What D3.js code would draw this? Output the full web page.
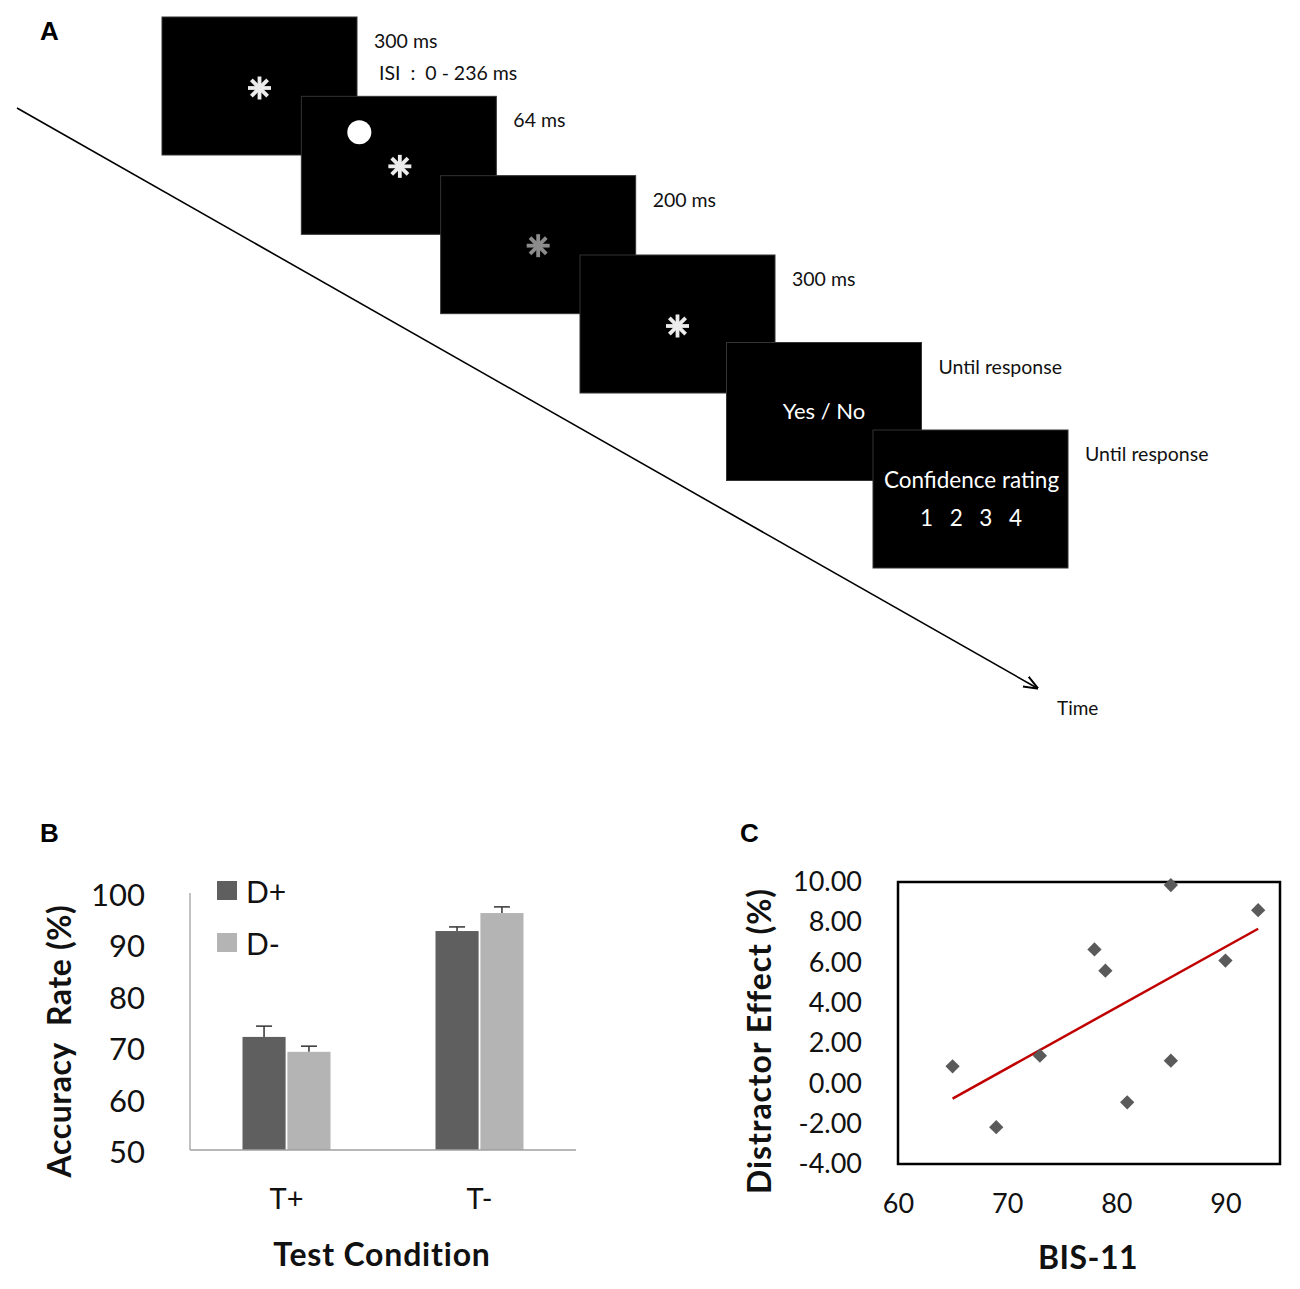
<!DOCTYPE html>
<html><head><meta charset="utf-8">
<script src="https://cdn.jsdelivr.net/npm/d3@7"></script>
<style>body{margin:0;background:#fff}svg{display:block}</style>
</head><body>
<svg id="fig" width="1300" height="1289"></svg>
<script>
// ---------- DATA ----------
// Panel A: trial sequence
const screenNames = ["fixation", "cue", "mask", "fixation2", "response", "confidence"];
const screenStimuli = ["star", "dotStar", "grayStar", "star", "yesno", "rating"];
const durationLabels = [["300 ms", " ISI  :  0 - 236 ms"], ["64 ms"], ["200 ms"], ["300 ms"], ["Until response"], ["Until response"]];
const responseText = "Yes / No";
const ratingTitle = "Confidence rating";
const ratingOptions = ["1", "2", "3", "4"];
const timeLabel = "Time";

// Panel B: accuracy
const conditions = ["T+", "T-"];
const distractors = ["D+", "D-"];
const accDplus = [72.0, 92.6];
const accDminus = [69.1, 96.1];
const errDplus = [2.1, 0.8];
const errDminus = [1.1, 1.2];
const accTicks = [50, 60, 70, 80, 90, 100];

// Panel C: scatter
const bisScores = [65, 69, 73, 78, 79, 81, 85, 85, 90, 93];
const distractorEffect = [0.85, -2.17, 1.38, 6.65, 5.6, -0.94, 9.85, 1.13, 6.1, 8.6];
const effectTicks = [-4, -2, 0, 2, 4, 6, 8, 10];
const bisTicks = [60, 70, 80, 90];

// ---------- DRAW ----------
const svg = d3.select("#fig");
const calib = "Lato, 'Open Sans', sans-serif";

// Panel letters
[["A", 40, 40], ["B", 40, 842], ["C", 740, 842]].forEach(([t, x, y]) => {
  svg.append("text").attr("x", x).attr("y", y).text(t)
    .attr("font-family", "'Liberation Sans', Arial, sans-serif").attr("font-weight", "bold")
    .attr("font-size", 26).attr("fill", "#000");
});

// ===== Panel A =====
const gA = svg.append("g");
const idx = d3.range(screenNames.length);
const sx = d3.scaleLinear().domain([0, 3, 5]).range([162, 580, 873]);
const sy = d3.scaleLinear().domain([0, 3, 5]).range([17, 255, 430]);
const sw = 195, sh = 138;

// time arrow
const defs = svg.append("defs");
defs.append("marker").attr("id", "arrow").attr("viewBox", "0 0 10 10").attr("refX", 9).attr("refY", 5)
  .attr("markerWidth", 9).attr("markerHeight", 9).attr("orient", "auto")
  .append("path").attr("d", "M0,1 L10,5 L0,9").attr("fill", "none").attr("stroke", "#000").attr("stroke-width", 1.4);
gA.append("line").attr("x1", 17).attr("y1", 108).attr("x2", 1037).attr("y2", 688)
  .attr("stroke", "#000").attr("stroke-width", 1.6).attr("marker-end", "url(#arrow)");
gA.append("text").attr("x", 1057).attr("y", 715).text(timeLabel)
  .attr("font-family", calib).attr("font-size", 19).attr("fill", "#111");

function star(g, cx, cy, r, color) {
  d3.range(4).forEach(k => {
    const a = k * Math.PI / 4;
    g.append("line").attr("x1", cx - r * Math.cos(a)).attr("y1", cy - r * Math.sin(a))
      .attr("x2", cx + r * Math.cos(a)).attr("y2", cy + r * Math.sin(a))
      .attr("stroke", color).attr("stroke-width", 3.8).attr("stroke-linecap", "butt");
  });
}

idx.forEach(i => {
  const x = sx(i), y = sy(i);
  const g = gA.append("g");
  g.append("rect").attr("x", x).attr("y", y).attr("width", sw).attr("height", sh)
    .attr("fill", "#000").attr("stroke", "#333").attr("stroke-width", 1);
  const cx = x + sw / 2, cy = y + sh / 2;
  const s = screenStimuli[i];
  if (s === "star") star(g, cx, cy + 2, 11.5, "#ececec");
  if (s === "grayStar") star(g, cx, cy + 1, 11.5, "#8c8c8c");
  if (s === "dotStar") {
    g.append("circle").attr("cx", x + 58).attr("cy", y + 36).attr("r", 12).attr("fill", "#fff");
    star(g, cx + 1, cy + 1, 11.5, "#ececec");
  }
  if (s === "yesno") {
    g.append("text").attr("x", cx).attr("y", cy + 7).attr("text-anchor", "middle").text(responseText)
      .attr("font-family", calib).attr("font-size", 22).attr("fill", "#fff");
  }
  if (s === "rating") {
    g.append("text").attr("x", cx + 1).attr("y", cy - 11).attr("text-anchor", "middle").text(ratingTitle)
      .attr("font-family", calib).attr("font-size", 22.5).attr("fill", "#fff");
    const rx = d3.scalePoint().domain(ratingOptions).range([cx - 44, cx + 45]);
    ratingOptions.forEach(o => {
      g.append("text").attr("x", rx(o)).attr("y", cy + 27).attr("text-anchor", "middle").text(o)
        .attr("font-family", calib).attr("font-size", 22.5).attr("fill", "#fff");
    });
  }
  durationLabels[i].forEach((t, j) => {
    gA.append("text").attr("x", x + sw + 17).attr("y", y + 31 + j * 32).text(t)
      .style("white-space", "pre")
      .attr("font-family", calib).attr("font-size", 19.5).attr("fill", "#111");
  });
});

// ===== Panel B =====
const gB = svg.append("g");
const bx = d3.scaleBand().domain(conditions).range([190, 576]).padding(0);
const by = d3.scaleLinear().domain([50, 100]).range([1150, 893]);
const sub = d3.scaleBand().domain(distractors).range([-44, 44]).paddingInner(0.04);
const barColors = { "D+": "#5f5f5f", "D-": "#b4b4b4" };
const barData = [];
conditions.forEach((c, i) => {
  barData.push({ c, d: "D+", v: accDplus[i], e: errDplus[i] });
  barData.push({ c, d: "D-", v: accDminus[i], e: errDminus[i] });
});
gB.selectAll("rect.bar").data(barData).join("rect").attr("class", "bar")
  .attr("x", d => bx(d.c) + bx.bandwidth() / 2 + sub(d.d))
  .attr("width", sub.bandwidth())
  .attr("y", d => by(d.v)).attr("height", d => by(50) - by(d.v))
  .attr("fill", d => barColors[d.d]);
barData.forEach(d => {
  const cx = bx(d.c) + bx.bandwidth() / 2 + sub(d.d) + sub.bandwidth() / 2;
  gB.append("line").attr("x1", cx).attr("x2", cx).attr("y1", by(d.v)).attr("y2", by(d.v + d.e))
    .attr("stroke", "#333").attr("stroke-width", 1.5);
  gB.append("line").attr("x1", cx - 8).attr("x2", cx + 8).attr("y1", by(d.v + d.e)).attr("y2", by(d.v + d.e))
    .attr("stroke", "#333").attr("stroke-width", 1.5);
});
// axes lines
gB.append("line").attr("x1", 190).attr("x2", 190).attr("y1", by(100)).attr("y2", by(50)).attr("stroke", "#a0a0a0").attr("stroke-width", 1.3);
gB.append("line").attr("x1", 190).attr("x2", 576).attr("y1", by(50)).attr("y2", by(50)).attr("stroke", "#a0a0a0").attr("stroke-width", 1.5);
// y ticks
const yAxisB = d3.axisLeft(by).tickValues(accTicks).tickSize(0).tickPadding(45);
const gya = gB.append("g").attr("transform", "translate(190,0)").call(yAxisB);
gya.select(".domain").remove();
gya.selectAll("text").attr("font-family", calib).attr("font-size", 31).attr("fill", "#111").attr("dy", "0.4em");
// x ticks
conditions.forEach(c => {
  gB.append("text").attr("x", bx(c) + bx.bandwidth() / 2).attr("y", 1209).attr("text-anchor", "middle").text(c)
    .attr("font-family", calib).attr("font-size", 29).attr("fill", "#111");
});
// legend
distractors.forEach((d, i) => {
  gB.append("rect").attr("x", 217).attr("y", 881 + i * 52).attr("width", 20).attr("height", 19).attr("fill", barColors[d]);
  gB.append("text").attr("x", 246).attr("y", 903 + i * 52).text(d)
    .attr("font-family", calib).attr("font-size", 30).attr("fill", "#111");
});
// titles
gB.append("text").attr("transform", "translate(71,1041) rotate(-90)").attr("text-anchor", "middle")
  .text("Accuracy  Rate (%)").style("white-space", "pre")
  .attr("font-family", calib).attr("font-weight", "bold").attr("font-size", 32).attr("letter-spacing", 0.6).attr("fill", "#111");
gB.append("text").attr("x", 382).attr("y", 1266).attr("text-anchor", "middle").text("Test Condition")
  .attr("font-family", calib).attr("font-weight", "bold").attr("font-size", 32).attr("letter-spacing", 0.8).attr("fill", "#111");

// ===== Panel C =====
const gC = svg.append("g");
const cx = d3.scaleLinear().domain([60, 95]).range([898, 1280]);
const cy = d3.scaleLinear().domain([-4, 10]).range([1164, 882]);
gC.append("rect").attr("x", cx(60)).attr("y", cy(10)).attr("width", cx(95) - cx(60)).attr("height", cy(-4) - cy(10))
  .attr("fill", "none").attr("stroke", "#000").attr("stroke-width", 2.5);
const fmt2 = v => d3.format(".2f")(v).replace("\u2212", "-");
const yAxisC = d3.axisLeft(cy).tickValues(effectTicks).tickFormat(fmt2).tickSize(0).tickPadding(36);
const gyc = gC.append("g").attr("transform", `translate(${cx(60)},0)`).call(yAxisC);
gyc.select(".domain").remove();
gyc.selectAll("text").attr("font-family", calib).attr("font-size", 27).attr("fill", "#111");
const xAxisC = d3.axisBottom(cx).tickValues(bisTicks).tickSize(0).tickPadding(30);
const gxc = gC.append("g").attr("transform", `translate(0,${cy(-4)})`).call(xAxisC);
gxc.select(".domain").remove();
gxc.selectAll("text").attr("font-family", calib).attr("font-size", 27).attr("fill", "#111");
// regression
const mx = d3.mean(bisScores), my = d3.mean(distractorEffect);
const slope = d3.sum(bisScores, (x, i) => (x - mx) * (distractorEffect[i] - my)) / d3.sum(bisScores, x => (x - mx) ** 2);
const icpt = my - slope * mx;
const [xmin, xmax] = d3.extent(bisScores);
gC.append("line").attr("x1", cx(xmin)).attr("y1", cy(icpt + slope * xmin)).attr("x2", cx(xmax)).attr("y2", cy(icpt + slope * xmax))
  .attr("stroke", "#c00000").attr("stroke-width", 2.5);
const pts = bisScores.map((x, i) => ({ x, y: distractorEffect[i] }));
gC.selectAll("path.pt").data(pts).join("path").attr("class", "pt")
  .attr("d", d3.symbol().type(d3.symbolDiamond2).size(130))
  .attr("transform", d => `translate(${cx(d.x)},${cy(d.y)})`)
  .attr("fill", "#5a5a5a");
gC.append("text").attr("transform", "translate(771,1041) rotate(-90)").attr("text-anchor", "middle")
  .text("Distractor Effect (%)")
  .attr("font-family", calib).attr("font-weight", "bold").attr("font-size", 32).attr("letter-spacing", 0.9).attr("fill", "#111");
gC.append("text").attr("x", 1088).attr("y", 1269).attr("text-anchor", "middle").text("BIS-11")
  .attr("font-family", calib).attr("font-weight", "bold").attr("font-size", 32).attr("letter-spacing", 0.5).attr("fill", "#111");
</script>
</body></html>
